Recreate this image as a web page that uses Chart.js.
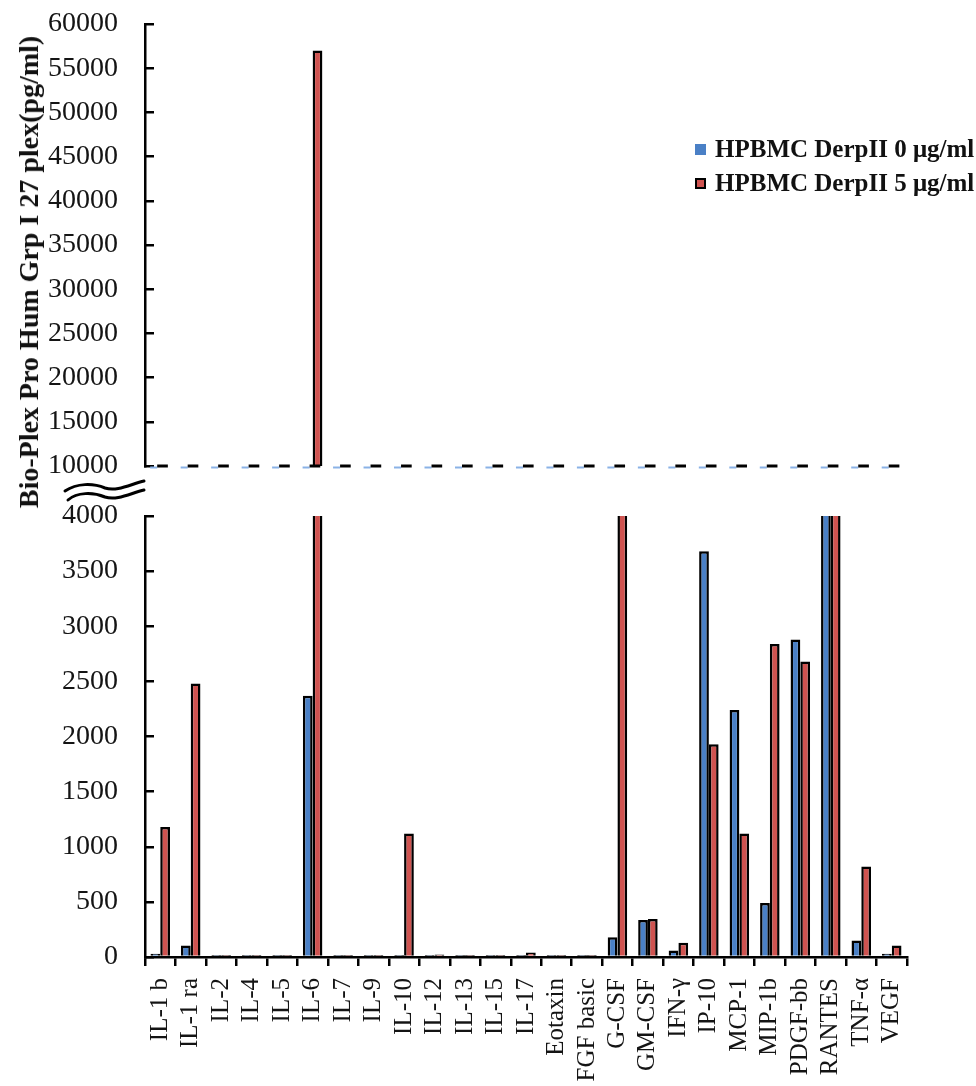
<!DOCTYPE html>
<html>
<head>
<meta charset="utf-8">
<script src="https://cdn.jsdelivr.net/npm/chart.js@4.4.1/dist/chart.umd.min.js"></script>
<style>
  html, body { margin: 0; padding: 0; background: #fff; }
  #wrap { position: relative; width: 976px; height: 1086px; overflow: hidden;
          font-family: "Liberation Serif", "Times New Roman", serif; color: #111; }
  #upper { position: absolute; left: 0; top: 0; }
  #lower { position: absolute; left: 0; top: 480px; }
  #ytitle { position: absolute; left: 29px; top: 272px; transform: translate(-50%, -50%) rotate(-90deg);
            font-weight: bold; font-size: 28px; white-space: nowrap; }
  #legend { position: absolute; left: 695px; top: 132px; font-weight: bold; font-size: 25px; }
  #legend .row { display: flex; align-items: center; height: 34px; white-space: nowrap; }
  #legend .sw { width: 11px; height: 11px; margin-right: 9px; box-sizing: border-box; }
</style>
</head>
<body>
<div id="wrap">
  <canvas id="upper" width="976" height="520"></canvas>
  <canvas id="lower" width="976" height="606"></canvas>
  <div id="ytitle">Bio-Plex Pro Hum Grp I 27 plex(pg/ml)</div>
  <div id="legend"></div>
</div>
<script>
// Cytokine panel (pg/ml) for HPBMC cultured without / with DerpII
const categories = ['IL-1 b', 'IL-1 ra', 'IL-2', 'IL-4', 'IL-5', 'IL-6', 'IL-7', 'IL-9', 'IL-10',
  'IL-12', 'IL-13', 'IL-15', 'IL-17', 'Eotaxin', 'FGF basic', 'G-CSF', 'GM-CSF', 'IFN-γ',
  'IP-10', 'MCP-1', 'MIP-1b', 'PDGF-bb', 'RANTES', 'TNF-α', 'VEGF'];
const seriesLabels = ['HPBMC DerpII 0 μg/ml', 'HPBMC DerpII 5 μg/ml'];
const derp0 = [30, 105, 8, 4, 5, 2370, 4, 5, 10, 12, 15, 15, 18, 14, 5, 180, 335, 60,
  3680, 2240, 490, 2880, 6700, 150, 30];
const derp5 = [1180, 2480, 12, 6, 6, 57000, 5, 5, 1120, 22, 18, 16, 40, 14, 6, 5400, 345, 130,
  1930, 1120, 2840, 2680, 7300, 820, 105];
// axis ranges: [min, max, step]
const upperAxis = [10000, 60000, 5000];
const lowerAxis = [0, 4000, 500];

const SERIF = "'Liberation Serif', 'Times New Roman', serif";
const BLUE = '#4a80c6';
const RED = '#cf5350';
const INK = '#141414';

function datasets(minLen) {
  return [
    { label: seriesLabels[0], data: derp0, backgroundColor: BLUE, borderColor: '#000',
      borderWidth: 2.5, minBarLength: minLen, clip: 0, categoryPercentage: 0.64, barPercentage: 1 },
    { label: seriesLabels[1], data: derp5, backgroundColor: RED, borderColor: '#000',
      borderWidth: 2.5, minBarLength: minLen, clip: 0, categoryPercentage: 0.64, barPercentage: 1 }
  ];
}

function valueAxis(range) {
  return {
    min: range[0], max: range[1],
    ticks: { stepSize: range[2], color: INK, padding: 36, font: { family: SERIF, size: 28 },
             callback: v => String(v) },
    grid: { drawOnChartArea: false, tickLength: -9, color: '#000', lineWidth: 2.5 },
    border: { color: '#000', width: 2.5 },
    afterFit(s) { s.width = 145; s.paddingTop = 0; s.paddingBottom = 0; }
  };
}

// dashed break line along the foot of the upper panel, one dash pair per category
const breakLine = {
  id: 'breakLine',
  afterDatasetsDraw(chart) {
    const ctx = chart.ctx;
    const y = chart.scales.y.getPixelForValue(chart.scales.y.min);
    const x = chart.scales.x;
    const step = x.width / categories.length;
    ctx.save();
    ctx.lineCap = 'butt';
    categories.forEach((c, i) => {
      const cx = x.getPixelForValue(i);
      ctx.strokeStyle = '#8ab2e6';
      ctx.lineWidth = 2;
      ctx.beginPath();
      ctx.moveTo(cx - step * 0.33, y + 1.5);
      ctx.lineTo(cx - step * 0.1, y + 1.5);
      ctx.stroke();
      ctx.strokeStyle = '#000';
      ctx.lineWidth = 3;
      ctx.beginPath();
      ctx.moveTo(cx - step * 0.1, y);
      ctx.lineTo(cx + step * 0.25, y);
      ctx.stroke();
    });
    ctx.restore();
  }
};

// squiggle marking the broken value axis
const breakMark = {
  id: 'breakMark',
  afterDraw(chart) {
    const ctx = chart.ctx;
    const left = chart.chartArea.left, base = chart.chartArea.bottom;
    ctx.save();
    ctx.strokeStyle = '#000';
    ctx.lineWidth = 3;
    ctx.lineCap = 'round';
    [0, 9].forEach(dy => {
      const y = base + 25 + dy;
      ctx.beginPath();
      ctx.moveTo(left - 80 + dy / 3, y);
      ctx.bezierCurveTo(left - 68, y - 8, left - 52, y - 8, left - 40, y - 3);
      ctx.bezierCurveTo(left - 28, y + 1, left - 14, y - 7, left - 1, y - 10);
      ctx.stroke();
    });
    ctx.restore();
  }
};

new Chart(document.getElementById('upper'), {
  type: 'bar',
  data: { labels: categories, datasets: datasets(0) },
  options: {
    responsive: false, animation: false,
    layout: { padding: { top: 24, right: 69, left: 0, bottom: 0 } },
    plugins: { legend: { display: false }, tooltip: { enabled: false } },
    scales: {
      x: {
        ticks: { display: false },
        grid: { drawOnChartArea: false, drawTicks: false },
        border: { display: false },
        afterFit(s) { s.height = 54; }
      },
      y: valueAxis(upperAxis)
    }
  },
  plugins: [breakLine, breakMark]
});

new Chart(document.getElementById('lower'), {
  type: 'bar',
  data: { labels: categories, datasets: datasets(2) },
  options: {
    responsive: false, animation: false,
    layout: { padding: { top: 36, right: 69, left: 0, bottom: 0 } },
    plugins: { legend: { display: false }, tooltip: { enabled: false } },
    scales: {
      x: {
        ticks: { color: INK, autoSkip: false, minRotation: 90, maxRotation: 90, padding: 12,
                 font: { family: SERIF, size: 25 } },
        grid: { drawOnChartArea: false, tickLength: 9, color: '#000', lineWidth: 2.5, offset: true },
        border: { color: '#000', width: 2.5 },
        afterFit(s) { s.height = 129; }
      },
      y: valueAxis(lowerAxis)
    }
  }
});

// legend
const legend = document.getElementById('legend');
[[BLUE, 'none'], [RED, '2px solid #000']].forEach((st, i) => {
  const row = document.createElement('div');
  row.className = 'row';
  const sw = document.createElement('span');
  sw.className = 'sw';
  sw.style.background = st[0];
  sw.style.border = st[1];
  const tx = document.createElement('span');
  tx.textContent = seriesLabels[i];
  row.appendChild(sw);
  row.appendChild(tx);
  legend.appendChild(row);
});
</script>
</body>
</html>
